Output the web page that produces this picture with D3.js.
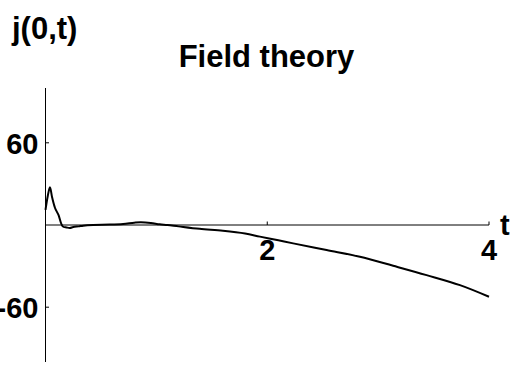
<!DOCTYPE html>
<html>
<head>
<meta charset="utf-8">
<script src="https://cdn.jsdelivr.net/npm/d3@7"></script>
<style>
  html, body { margin: 0; padding: 0; background: #fff; }
  svg { display: block; }
  text { font-family: "Liberation Sans", Arial, sans-serif; font-weight: bold; fill: #000; }
</style>
</head>
<body>
<script>
// Current j(0,t) from the field-theory calculation
const tValues = [0, 0.02, 0.04, 0.06, 0.086, 0.116, 0.155, 0.19, 0.22, 0.25, 0.3, 0.34, 0.43, 0.58, 0.7, 0.8, 0.86, 0.95, 1.03, 1.1, 1.2, 1.39, 1.6, 1.8, 1.934, 2.1, 2.234, 2.535, 2.836, 3.136, 3.437, 3.738, 4.0];
const jValues = [11, 21, 27.6, 20, 12.4, 7.5, -1, -1.8, -2.2, -1.5, -1.0, -0.5, 0, 0.3, 0.8, 1.7, 2.0, 1.5, 0.5, 0, -1.0, -2.8, -4.2, -6.2, -8.5, -11.2, -13.4, -18.3, -23.2, -29.8, -36.6, -43.9, -52.4];

const xTicks = [2, 4];
const yTicks = [-60, 60];
const titleText = "Field theory";
const yLabel = "j(0,t)";
const xLabel = "t";

const W = 515, H = 370;
const svg = d3.select("body").append("svg").attr("width", W).attr("height", H);

const x = d3.scaleLinear().domain([0, 4]).range([45.5, 489]);
const y = d3.scaleLinear().domain([-100, 100]).range([362, 88]);

// axes (Mathematica-style: drawn through the origin)
svg.append("line")
  .attr("x1", x(0)).attr("x2", x(4))
  .attr("y1", y(0)).attr("y2", y(0))
  .attr("stroke", "#000").attr("stroke-width", 1);
svg.append("line")
  .attr("x1", x(0)).attr("x2", x(0))
  .attr("y1", y(100)).attr("y2", y(-100))
  .attr("stroke", "#000").attr("stroke-width", 1);

svg.selectAll(".xt").data(xTicks).enter().append("line")
  .attr("x1", d => x(d)).attr("x2", d => x(d))
  .attr("y1", y(0)).attr("y2", y(0) - 3.5)
  .attr("stroke", "#000").attr("stroke-width", 1);
svg.selectAll(".yt").data(yTicks).enter().append("line")
  .attr("x1", x(0)).attr("x2", x(0) + 3.5)
  .attr("y1", d => y(d)).attr("y2", d => y(d))
  .attr("stroke", "#000").attr("stroke-width", 1);

svg.selectAll(".xl").data(xTicks).enter().append("text")
  .attr("x", d => x(d)).attr("y", y(0) + 35)
  .attr("text-anchor", "middle").attr("font-size", 29)
  .text(d => d);
svg.selectAll(".yl").data(yTicks).enter().append("text")
  .attr("x", x(0) - 7).attr("y", d => y(d) + 11)
  .attr("text-anchor", "end").attr("font-size", 29)
  .text(d => d);

// curve
const pts = tValues.map((t, i) => [t, jValues[i]]);
const line = d3.line().x(d => x(d[0])).y(d => y(d[1])).curve(d3.curveCatmullRom.alpha(0.5));
svg.append("path").attr("d", line(pts))
  .attr("fill", "none").attr("stroke", "#000").attr("stroke-width", 2)
  .attr("stroke-linejoin", "round");

// labels
svg.append("text").attr("x", 266.5).attr("y", 67)
  .attr("text-anchor", "middle").attr("font-size", 31).text(titleText);
svg.append("text").attr("x", 12).attr("y", 39)
  .attr("font-size", 31).text(yLabel);
svg.append("text").attr("x", 500).attr("y", 235)
  .attr("font-size", 29).text(xLabel);
</script>
</body>
</html>
